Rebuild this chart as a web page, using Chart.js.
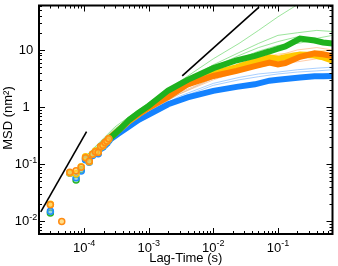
<!DOCTYPE html>
<html>
<head>
<meta charset="utf-8">
<script src="https://cdn.jsdelivr.net/npm/chart.js@4"></script>
<style>
  body { margin: 0; background: #fff; }
</style>
</head>
<body>
<canvas id="msd" width="338" height="266"></canvas>
<script>
// temps des premiers points (markers)
const tEarly = [3.0e-5, 4.5e-5, 6.0e-5, 7.5e-5, 9.0e-5, 1.05e-4, 1.2e-4, 1.35e-4, 1.5e-4, 1.65e-4, 1.8e-4, 1.95e-4, 2.1e-4, 2.25e-4, 2.4e-4];
const orangeEarly = [0.0195, 0.0099, 0.072, 0.077, 0.088, 0.13, 0.113, 0.15, 0.165, 0.16, 0.205, 0.215, 0.24, 0.255, 0.28];
const yellowEarly = [0.02, null, 0.07, 0.068, 0.09, 0.135, 0.11, 0.15, 0.17, 0.165, 0.2, 0.21, 0.235, 0.25, 0.275];
const blueEarly = [0.015, null, 0.07, 0.058, 0.076, 0.12, 0.108, 0.142, 0.155, 0.152, 0.19, 0.2, 0.22, 0.235, 0.26];
const greenEarly = [0.014, null, 0.07, 0.053, 0.08, 0.125, 0.112, 0.148, 0.16, 0.158, 0.2, 0.21, 0.235, 0.25, 0.27];

// moyennes (traits epais)
const tMean = [2.4e-4, 3.5e-4, 5e-4, 7e-4, 1e-3, 2e-3, 4e-3, 1e-2, 2.3e-2, 4.4e-2, 7.4e-2, 0.1, 0.13, 0.22, 0.37, 0.5, 0.7];
const blueMean = [0.26, 0.35, 0.46, 0.6, 0.74, 1.12, 1.48, 1.92, 2.26, 2.5, 2.9, 3.0, 3.1, 3.3, 3.45, 3.45, 3.5];
const orangeMean = [0.28, 0.4, 0.58, 0.76, 0.98, 1.5, 2.5, 3.5, 4.3, 5.2, 6.0, 5.6, 5.9, 7.6, 8.7, 8.4, 7.8];
const yellowMean = [0.275, 0.4, 0.57, 0.75, 0.97, 1.6, 2.7, 3.9, 5.0, 6.4, 7.4, 7.0, 7.5, 8.3, 8.0, 7.4, 6.5];
const greenMean = [0.27, 0.4, 0.6, 0.8, 1.05, 1.95, 3.0, 4.8, 6.6, 7.9, 9.4, 10.5, 11.5, 15.8, 14.6, 13.5, 13.0];

// trajectoires individuelles (traits fins)
const tThin = [1e-4, 3e-4, 1e-3, 3e-3, 1e-2, 2.5e-2, 5e-2, 0.1, 0.2, 0.4, 0.7];
const thinGreen = [
  [0.13, 0.45, 1.2, 2.8, 7.0, 13, 22, 38, 62, 110, 150],
  [0.13, 0.42, 1.1, 2.5, 5.5, 9, 13, 18, 20, 22, 21],
  [0.12, 0.4, 1.05, 2.3, 5.0, 8, 11, 14, 17, 16, 18],
  [0.12, 0.4, 1.0, 2.2, 4.5, 7, 9.5, 12, 13, 15, 14]
];
const thinOrange = [
  [0.12, 0.36, 0.9, 1.9, 3.6, 5.5, 7, 8, 10, 11, 10],
  [0.12, 0.36, 0.88, 1.8, 3.2, 4.5, 5.5, 6.5, 7.5, 8, 9],
  [0.12, 0.35, 0.85, 1.7, 3.0, 4.2, 5.0, 5.8, 6.2, 7, 6.5]
];
const thinTan = [0.12, 0.35, 0.85, 1.7, 3.2, 4.5, 5.5, 6.5, 7, 7.5, 6];
const thinYellow = [0.12, 0.36, 0.9, 1.9, 3.7, 5.5, 7, 8.5, 9, 9.5, 10];
const thinBlue = [
  [0.11, 0.33, 0.8, 1.55, 2.6, 3.3, 3.8, 4.1, 4.5, 4.8, 5.0],
  [0.11, 0.32, 0.78, 1.45, 2.4, 3.0, 3.4, 3.8, 4.1, 4.3, 4.5]
];

// droites de reference (pente 2 et pente 1)
const guide1T = [2.13e-5, 1.09e-4];
const guide1V = [0.0146, 0.373];
const guide2T = [3.3e-3, 0.051];
const guide2V = [3.52, 56];

// etiquettes des axes
const xDecades = [-4, -3, -2, -1];
const yDecades = [1, 0, -1, -2];

function pts(ts, vs) {
    const res = [];
    for (let i = 0; i < ts.length; i++) {
        if (vs[i] !== null) res.push({x: ts[i], y: vs[i]});
    }
    return res;
}

function ligne(ts, vs, color, width) {
    return {data: pts(ts, vs), showLine: true, borderColor: color, borderWidth: width,
        pointRadius: 0, clip: 0, tension: 0};
}

function points(ts, vs, color, fill) {
    return {data: pts(ts, vs), showLine: false, pointRadius: 3, pointBorderWidth: 1.5,
        borderColor: color, backgroundColor: fill, pointStyle: 'circle', clip: 0};
}

const datasets = [
    ligne(guide1T, guide1V, "#000", 1.6),
    ligne(guide2T, guide2V, "#000", 1.6),
    points(tEarly, orangeEarly, "rgb(255,140,20)", "rgba(255,200,60,0.6)"),
    points(tEarly, yellowEarly, "rgb(255,200,0)", "rgba(255,220,80,0.5)"),
    points(tEarly, blueEarly, "rgb(30,140,255)", "rgba(120,190,255,0.5)"),
    points(tEarly, greenEarly, "rgb(40,180,40)", "rgba(140,220,140,0.5)"),
    ligne(tMean, greenMean, "rgb(30,178,30)", 6),
    ligne(tMean, orangeMean, "rgb(255,128,0)", 6),
    ligne(tMean, yellowMean, "rgb(255,200,0)", 6),
    ligne(tMean, blueMean, "rgb(20,130,255)", 6),
];
for (const v of thinBlue) datasets.push(ligne(tThin, v, "rgba(110,175,255,0.6)", 1));
datasets.push(ligne(tThin, thinYellow, "rgba(255,210,80,0.6)", 1));
datasets.push(ligne(tThin, thinTan, "rgba(200,180,150,0.6)", 1));
for (const v of thinOrange) datasets.push(ligne(tThin, v, "rgba(255,170,110,0.6)", 1));
for (const v of thinGreen) datasets.push(ligne(tThin, v, "rgba(90,210,90,0.6)", 1));

const FONT = '"Liberation Sans", Arial, sans-serif';

function puissance(ctx, exp, cx, cy) {
    // "10" + exposant, centre sur cx
    ctx.font = "13px " + FONT;
    const base = exp === 0 ? "1" : (exp === 1 ? "10" : "10");
    const sup = exp < 0 ? String(exp) : "";
    const wb = ctx.measureText(base).width;
    ctx.font = "9px " + FONT;
    const ws = ctx.measureText(sup).width;
    const x0 = cx - (wb + ws) / 2;
    ctx.textBaseline = "middle";
    ctx.textAlign = "left";
    ctx.font = "13px " + FONT;
    ctx.fillText(base, x0, cy);
    ctx.font = "9px " + FONT;
    ctx.fillText(sup, x0 + wb, cy - 4);
}

const cadre = {
    id: "cadre",
    afterDraw(chart) {
        const ctx = chart.ctx;
        const a = chart.chartArea;
        const x = chart.scales.x;
        const y = chart.scales.y;
        ctx.save();
        ctx.strokeStyle = "#000";
        ctx.fillStyle = "#000";
        ctx.lineWidth = 1;
        ctx.beginPath();
        for (let k = -6; k <= 2; k++) {
            for (let m = 1; m <= 9; m++) {
                const v = m * Math.pow(10, k);
                const len = m === 1 ? 6 : 3;
                if (v >= x.min && v <= x.max) {
                    const px = Math.round(x.getPixelForValue(v)) + 0.5;
                    ctx.moveTo(px, a.bottom); ctx.lineTo(px, a.bottom - len);
                    ctx.moveTo(px, a.top); ctx.lineTo(px, a.top + len);
                }
                if (v >= y.min && v <= y.max) {
                    const py = Math.round(y.getPixelForValue(v)) + 0.5;
                    ctx.moveTo(a.left, py); ctx.lineTo(a.left + len, py);
                    ctx.moveTo(a.right, py); ctx.lineTo(a.right - len, py);
                }
            }
        }
        ctx.stroke();
        ctx.lineWidth = 2;
        ctx.strokeRect(a.left, a.top, a.right - a.left, a.bottom - a.top);

        for (const d of xDecades) {
            puissance(ctx, d, x.getPixelForValue(Math.pow(10, d)), a.bottom + 14);
        }
        for (const d of yDecades) {
            puissance(ctx, d, 26, y.getPixelForValue(Math.pow(10, d)));
        }

        ctx.font = "13px " + FONT;
        ctx.textAlign = "center";
        ctx.textBaseline = "middle";
        ctx.fillText("Lag-Time (s)", (a.left + a.right) / 2, 258);
        ctx.translate(8, 118);
        ctx.rotate(-Math.PI / 2);
        ctx.fillText("MSD (nm²)", 0, 0);
        ctx.restore();
    }
};

const graphique = new Chart(document.querySelector("#msd"), {
    type: "scatter",
    data: {datasets: datasets},
    options: {
        responsive: false,
        animation: false,
        devicePixelRatio: 1,
        layout: {padding: {top: 2, right: 5, left: 0, bottom: 0}},
        plugins: {legend: {display: false}, tooltip: {enabled: false}},
        scales: {
            x: {
                type: "logarithmic", min: 2e-5, max: 0.7,
                ticks: {display: false}, grid: {display: false}, border: {display: false},
                afterFit: s => { s.height = 32; }
            },
            y: {
                type: "logarithmic", min: 0.006, max: 60,
                ticks: {display: false}, grid: {display: false}, border: {display: false},
                afterFit: s => { s.width = 39; }
            }
        }
    },
    plugins: [cadre]
});
</script>
</body>
</html>
